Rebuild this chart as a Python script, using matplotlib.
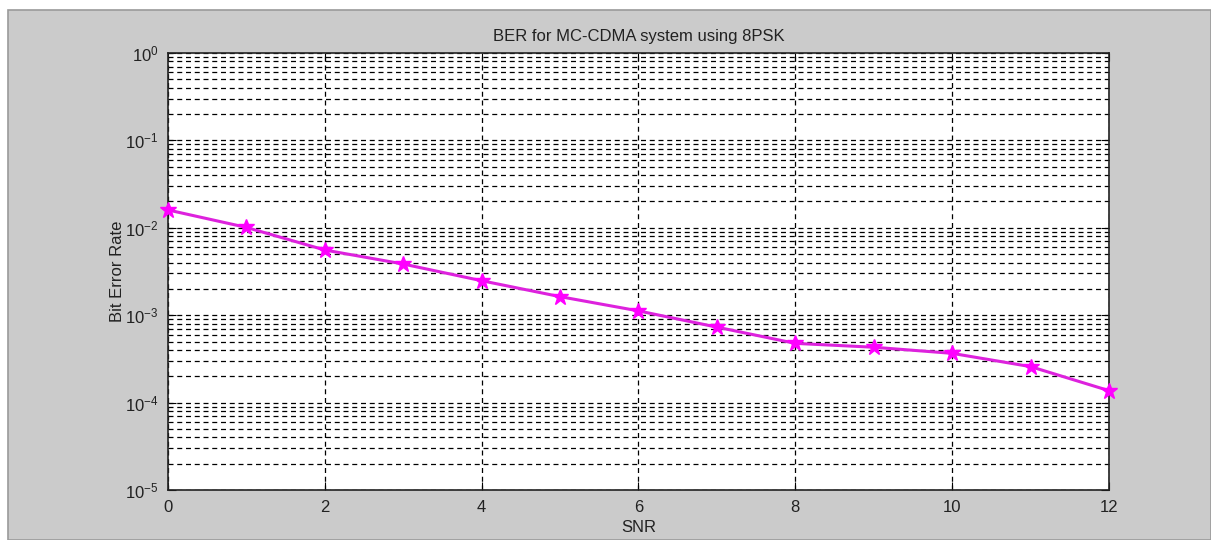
import matplotlib
matplotlib.use('Agg')
import matplotlib.pyplot as plt
from matplotlib.patches import Rectangle
from matplotlib.ticker import LogLocator, NullFormatter

plt.rcParams['font.family'] = ['Liberation Sans', 'DejaVu Sans']
plt.rcParams['axes.unicode_minus'] = False

# BER vs SNR
snr = [0, 1, 2, 3, 4, 5, 6, 7, 8, 9, 10, 11, 12]
ber = [0.016, 0.0101, 0.00557, 0.00385, 0.00248, 0.00163, 0.00112,
       0.00073, 0.000476, 0.00043, 0.000366, 0.000258, 0.000137]
xticks = [0, 2, 4, 6, 8, 10, 12]

W, H = 1211, 540
fig = plt.figure(figsize=(W / 100, H / 100), dpi=100, facecolor='white')

# matlab figure window background
fig.patches.append(Rectangle((8 / W, 0), 1 - 8 / W, (H - 10) / H,
                             transform=fig.transFigure, facecolor='#cbcbcb',
                             edgecolor='#9a9a9a', linewidth=1.2, zorder=-10))

ax = fig.add_axes([168 / W, (H - 490) / H, (1109 - 168) / W, (490 - 53) / H])
ax.set_zorder(1)
ax.set_facecolor('white')

ax.semilogy(snr, ber, color='#dd22dd', linewidth=2.2, marker='*',
            markersize=12, markerfacecolor='#ff00ff', markeredgecolor='#ff00ff',
            zorder=5, clip_on=False)

ax.set_xlim(0, 12)
ax.set_ylim(1e-5, 1)
ax.set_xticks(xticks)
ax.yaxis.set_major_locator(LogLocator(base=10, numticks=10))
ax.yaxis.set_minor_locator(LogLocator(base=10, subs=range(2, 10), numticks=50))
ax.yaxis.set_minor_formatter(NullFormatter())

ax.grid(True, which='major', axis='both', color='black', linestyle=(0, (4, 3)), linewidth=0.9)
ax.grid(True, which='minor', axis='y', color='black', linestyle=(0, (4, 3)), linewidth=0.9)

ax.tick_params(which='both', direction='in', top=True, right=True,
               labelsize=12, colors='black', labelcolor='#222222', pad=7)
ax.tick_params(which='major', length=6)
ax.tick_params(which='minor', length=3)
for s in ax.spines.values():
    s.set_linewidth(1.2)
    s.set_color('#222222')

ax.set_title('BER for MC-CDMA system using 8PSK', fontsize=12, color='#222222', pad=9)
ax.set_xlabel('SNR', fontsize=12, color='#222222', labelpad=4)
ax.set_ylabel('Bit Error Rate', fontsize=12, color='#222222', labelpad=0)

fig.savefig('out.png', dpi=100, facecolor=fig.get_facecolor())
